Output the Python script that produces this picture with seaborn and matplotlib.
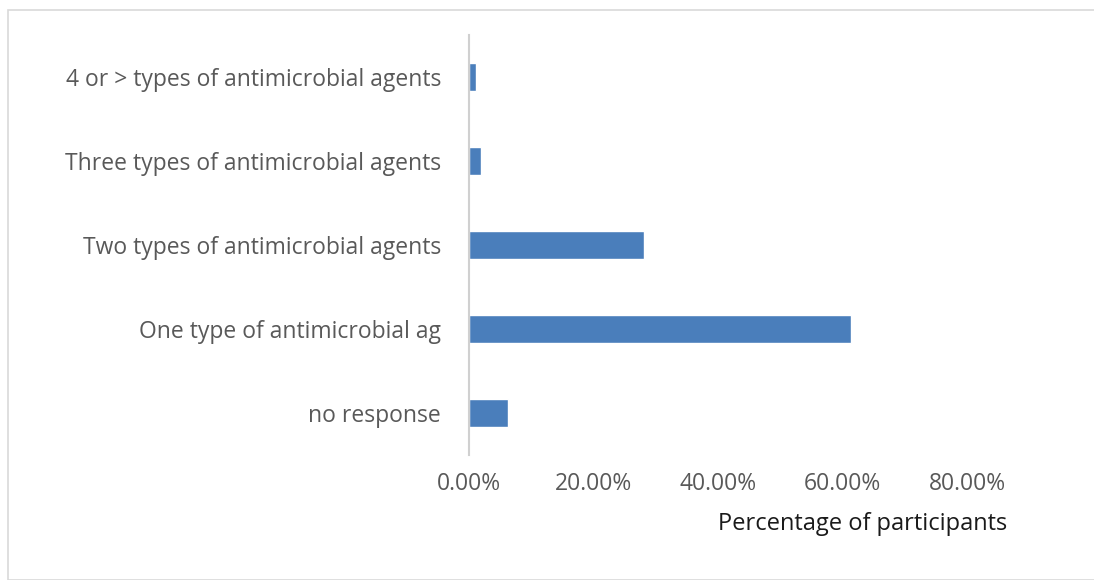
"""Horizontal bar chart: number of antimicrobial agent types used."""

import matplotlib.pyplot as plt
import pandas as pd
import seaborn as sns
from matplotlib.patches import Rectangle
from matplotlib.ticker import FuncFormatter

categories = [
    "4 or > types of antimicrobial agents",
    "Three types of antimicrobial agents",
    "Two types of antimicrobial agents",
    "One type of antimicrobial ag",
    "no response",
]
percentages = [0.012, 0.020, 0.281, 0.614, 0.063]
x_ticks = [0.0, 0.2, 0.4, 0.6, 0.8]


def main() -> None:
    df = pd.DataFrame({"category": categories, "pct": percentages})
    sns.set_theme(style="white")
    plt.rcParams["font.family"] = ["Open Sans", "DejaVu Sans"]

    fig = plt.figure(figsize=(10.94, 5.8), dpi=100)
    ax = fig.add_axes([469 / 1094, 1 - 455 / 580, (967 - 469) / 1094, 420 / 580])

    sns.barplot(
        data=df,
        x="pct",
        y="category",
        orient="h",
        color="#4A7EBB",
        width=0.34,
        saturation=1,
        ax=ax,
    )

    ax.set_xlim(0, 0.8)
    ax.set_ylim(4.5, -0.5)
    ax.set_xticks(x_ticks)
    ax.xaxis.set_major_formatter(FuncFormatter(lambda v, _: f"{v * 100:.2f}%"))
    ax.tick_params(axis="both", length=0, labelcolor="#595959")
    ax.tick_params(axis="y", pad=20, labelsize=16.5)
    ax.tick_params(axis="x", pad=12, labelsize=16.5)

    for side in ("top", "right", "bottom"):
        ax.spines[side].set_visible(False)
    ax.spines["left"].set_color("#D0D0D0")
    ax.spines["left"].set_linewidth(1.5)

    ax.set_ylabel("")
    ax.set_xlabel("Percentage of participants", fontsize=17, color="#1a1a1a", ha="right")
    ax.xaxis.set_label_coords(1.08, -0.135)

    # light frame around the chart area
    fig.patches.append(
        Rectangle(
            (8 / 1094, 0), 1.0, 1 - 10 / 580,
            transform=fig.transFigure, fill=False,
            edgecolor="#D9D9D9", linewidth=1.2,
        )
    )

    fig.savefig("out.png", dpi=100)
    plt.close(fig)


if __name__ == "__main__":
    main()
